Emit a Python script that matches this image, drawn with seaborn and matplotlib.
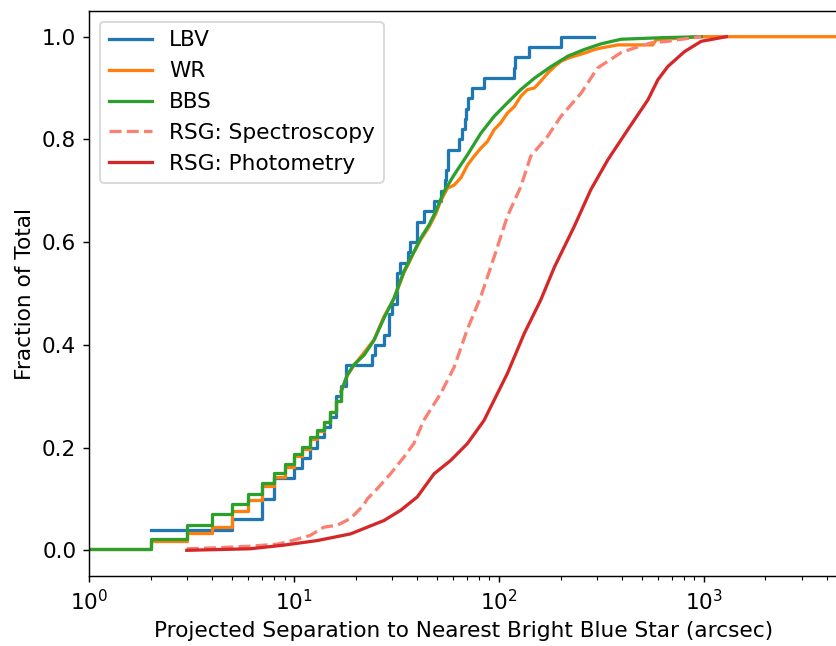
import matplotlib
matplotlib.use("Agg")
import matplotlib.pyplot as plt
import seaborn as sns

# ---- data (separation in arcsec, cumulative fraction) ----
lbv_x = [2, 5, 7, 8, 10, 11, 12, 13, 14, 15, 16, 17, 18, 24, 25, 27.5, 29, 30, 32, 33,
         36, 37, 40, 43, 48, 52, 54.5, 55.5, 56.5, 64, 66, 68, 69.5, 71, 74, 85, 118,
         120, 141, 201, 290]
lbv_y = [0.04, 0.06, 0.10, 0.14, 0.16, 0.18, 0.20, 0.22, 0.24, 0.26, 0.30, 0.32, 0.36,
         0.38, 0.40, 0.42, 0.46, 0.48, 0.54, 0.56, 0.58, 0.60, 0.64, 0.66, 0.68, 0.70,
         0.72, 0.74, 0.78, 0.80, 0.82, 0.84, 0.86, 0.88, 0.90, 0.92, 0.94, 0.96, 0.98,
         1.0, 1.0]

wr_step_x = [1, 2, 3, 4, 5, 6, 7, 8, 9, 10, 11, 12, 13, 14, 15, 16, 17]
wr_step_y = [0.003, 0.018, 0.034, 0.045, 0.077, 0.097, 0.125, 0.142, 0.162, 0.183,
             0.197, 0.217, 0.232, 0.25, 0.27, 0.29, 0.31]
wr_x = [17, 18.2, 19.6, 22, 24.6, 27.5, 30.8, 34.4, 38.5, 41.6, 45.7, 49.2, 52, 56.1,
        60.5, 65.2, 70.3, 75.7, 81.7, 88, 94.9, 102, 110, 119, 128, 138, 149, 160, 173,
        187, 201, 217, 233, 252, 271, 292, 315, 381, 564, 586, 972, 5000]
wr_y = [0.31, 0.34, 0.36, 0.385, 0.41, 0.455, 0.49, 0.54, 0.58, 0.605, 0.63, 0.655,
        0.68, 0.705, 0.711, 0.725, 0.750, 0.767, 0.783, 0.796, 0.819, 0.832, 0.851,
        0.864, 0.884, 0.897, 0.900, 0.913, 0.929, 0.942, 0.952, 0.958, 0.962, 0.966,
        0.970, 0.975, 0.978, 0.984, 0.984, 0.994, 1.0, 1.0]

bbs_step_x = [1, 2, 3, 4, 5, 6, 7, 8, 9, 10, 11, 12, 13, 14, 15, 16, 17]
bbs_step_y = [0.003, 0.023, 0.049, 0.07, 0.091, 0.11, 0.131, 0.151, 0.169, 0.187,
              0.201, 0.221, 0.234, 0.25, 0.27, 0.29, 0.309]
bbs_x = [17, 18.2, 19.6, 22, 24.6, 27.5, 30.8, 34.4, 38.5, 41.6, 45.7, 49.2, 54.1,
         60.5, 70.3, 81.7, 94.9, 110, 128, 149, 180, 217, 261, 315, 395, 620, 972]
bbs_y = [0.309, 0.341, 0.361, 0.380, 0.409, 0.452, 0.491, 0.543, 0.581, 0.608, 0.634,
         0.66, 0.699, 0.731, 0.770, 0.812, 0.845, 0.871, 0.897, 0.919, 0.942, 0.962,
         0.975, 0.986, 0.995, 0.998, 1.0]

rsgs_x = [3, 4.2, 6.1, 8.3, 9.6, 12, 14, 16.3, 18.9, 21.9, 22.8, 25.5, 29.6, 34.5, 38.5,
          43, 52, 60.6, 70, 81.7, 95, 110, 128, 143, 173, 201, 252, 303, 395, 459, 554,
          668, 747, 972]
rsgs_y = [0.003, 0.005, 0.008, 0.012, 0.018, 0.029, 0.045, 0.049, 0.062, 0.088, 0.10,
          0.12, 0.149, 0.182, 0.208, 0.253, 0.305, 0.357, 0.429, 0.494, 0.572, 0.65,
          0.708, 0.767, 0.806, 0.845, 0.89, 0.939, 0.969, 0.978, 0.988, 0.991, 0.994, 1.0]

rsgp_x = [3, 6.1, 8.9, 13, 18.9, 22.8, 27.5, 33.2, 40, 48.3, 58.2, 70.3, 84.7, 110, 133,
          160, 187, 233, 281, 340, 426, 534, 597, 668, 806, 972, 1290]
rsgp_y = [0.0, 0.003, 0.01, 0.019, 0.032, 0.045, 0.058, 0.078, 0.104, 0.149, 0.175,
          0.208, 0.253, 0.344, 0.422, 0.487, 0.552, 0.63, 0.702, 0.76, 0.819, 0.877,
          0.916, 0.942, 0.971, 0.991, 1.0]

labels = ["LBV", "WR", "BBS", "RSG: Spectroscopy", "RSG: Photometry"]
colors = ["#1f77b4", "#ff7f0e", "#2ca02c", "#fa8072", "#d62728"]

# ---- figure ----
W, H, DPI = 836, 646, 130
FS = 12
fig = plt.figure(figsize=(W / DPI, H / DPI), dpi=DPI)
ax = fig.add_axes([89 / W, (H - 576) / H, 749 / W, (576 - 11) / H])

common = dict(ax=ax, estimator=None, sort=False, linewidth=1.8)
sns.lineplot(x=lbv_x, y=lbv_y, color=colors[0], label=labels[0],
             drawstyle="steps-post", **common)
sns.lineplot(x=wr_step_x, y=wr_step_y, color=colors[1], label=labels[1],
             drawstyle="steps-post", **common)
sns.lineplot(x=wr_x, y=wr_y, color=colors[1], legend=False, **common)
sns.lineplot(x=bbs_step_x, y=bbs_step_y, color=colors[2], label=labels[2],
             drawstyle="steps-post", **common)
sns.lineplot(x=bbs_x, y=bbs_y, color=colors[2], legend=False, **common)
sns.lineplot(x=rsgs_x, y=rsgs_y, color=colors[3], label=labels[3],
             linestyle="--", **common)
sns.lineplot(x=rsgp_x, y=rsgp_y, color=colors[4], label=labels[4], **common)

ax.set_xscale("log")
ax.set_xlim(1, 4520)
ax.set_ylim(-0.05, 1.05)
ax.set_yticks([0.0, 0.2, 0.4, 0.6, 0.8, 1.0])
ax.set_xlabel("Projected Separation to Nearest Bright Blue Star (arcsec)", fontsize=FS)
ax.set_ylabel("Fraction of Total", fontsize=FS)
ax.tick_params(labelsize=FS)
ax.legend(loc="upper left", fontsize=FS)

fig.savefig("out.png", dpi=DPI)
